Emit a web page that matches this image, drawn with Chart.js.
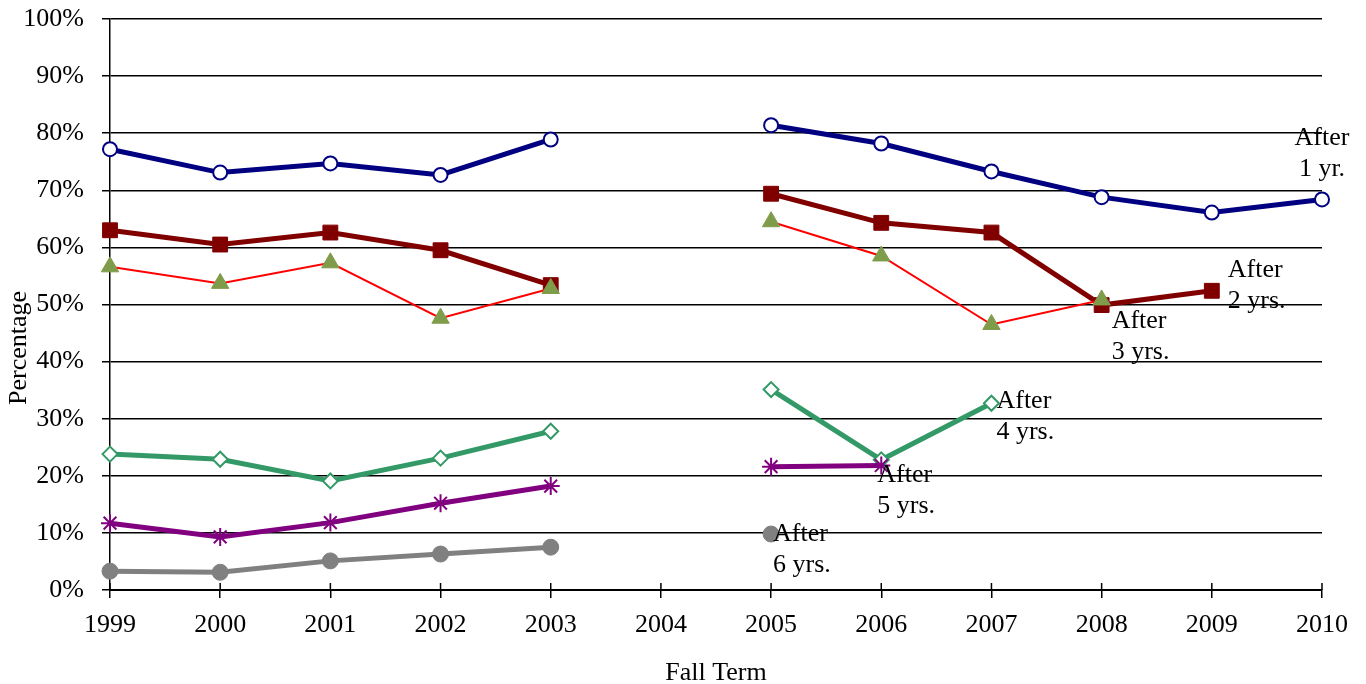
<!DOCTYPE html>
<html>
<head>
<meta charset="utf-8">
<script src="https://cdn.jsdelivr.net/npm/chart.js@4"></script>
<style>
html,body{margin:0;padding:0;background:#fff;}
#wrap{position:relative;width:1366px;height:684px;}
</style>
</head>
<body>
<div id="wrap"><canvas id="c" width="1366" height="684"></canvas></div>
<script>
const categories = ['1999','2000','2001','2002','2003','2004','2005','2006','2007','2008','2009','2010'];
const after1 = [77.2, 73.1, 74.7, 72.7, 78.9, null, 81.4, 78.2, 73.3, 68.8, 66.1, 68.4];
const after2 = [63.0, 60.5, 62.6, 59.5, 53.4, null, 69.4, 64.3, 62.6, 49.9, 52.4, null];
const after3 = [56.6, 53.7, 57.3, 47.6, 52.8, null, 64.5, 58.5, 46.5, 50.8, null, null];
const after4 = [23.8, 22.9, 19.1, 23.1, 27.8, null, 35.1, 22.8, 32.7, null, null, null];
const after5 = [11.7, 9.3, 11.8, 15.2, 18.2, null, 21.6, 21.8, null, null, null, null];
const after6 = [3.3, 3.1, 5.1, 6.3, 7.5, null, 9.8, null, null, null, null, null];
const seriesNames = ['After 1 yr.', 'After 2 yrs.', 'After 3 yrs.', 'After 4 yrs.', 'After 5 yrs.', 'After 6 yrs.'];
const yTicks = [0,10,20,30,40,50,60,70,80,90,100];
const xTitle = 'Fall Term';
const yTitle = 'Percentage';

const FONT = 'Liberation Serif, Times New Roman, serif';
const FS = 26;

// end-of-series label placement
const labelPlacement = [
  {ds:0, idx:11, dx:0,  dy:-61, align:'center'},
  {ds:1, idx:10, dx:16, dy:-21, align:'left'},
  {ds:2, idx:9,  dx:10, dy:21,  align:'left'},
  {ds:3, idx:8,  dx:5,  dy:-2,  align:'left'},
  {ds:4, idx:7,  dx:-4, dy:10,  align:'left'},
  {ds:5, idx:6,  dx:2,  dy:0,   align:'left'}
];

const labelPlugin = {
  id:'seriesLabels',
  afterDatasetsDraw(chart){
    const ctx = chart.ctx;
    ctx.save();
    ctx.font = FS + 'px ' + FONT;
    ctx.fillStyle = '#000';
    ctx.textBaseline = 'middle';
    labelPlacement.forEach(p=>{
      const pt = chart.getDatasetMeta(p.ds).data[p.idx];
      const parts = seriesNames[p.ds].split(' ');
      const l1 = parts[0];
      const l2 = parts.slice(1).join(' ');
      ctx.textAlign = p.align;
      ctx.fillText(l1, pt.x + p.dx, pt.y + p.dy);
      ctx.fillText(l2, pt.x + p.dx, pt.y + p.dy + 31);
    });
    ctx.restore();
  }
};

const extras = {
  id:'extras',
  afterDraw(chart){
    const xs = chart.scales.x;
    const ctx = chart.ctx;
    ctx.save();
    ctx.strokeStyle = '#000';
    ctx.lineWidth = 1.5;
    xs.ticks.forEach((t,i)=>{
      const x = xs.getPixelForTick(i);
      ctx.beginPath();
      ctx.moveTo(x, chart.chartArea.bottom - 7);
      ctx.lineTo(x, chart.chartArea.bottom);
      ctx.stroke();
    });
    // y axis title
    ctx.font = FS + 'px ' + FONT;
    ctx.fillStyle = '#000';
    ctx.textAlign = 'center';
    ctx.textBaseline = 'middle';
    ctx.translate(19, 348);
    ctx.rotate(-Math.PI/2);
    ctx.fillText(yTitle, 0, 0);
    ctx.restore();
  }
};

const ds = (label, data, color, lw, style, radius, bg, pbc, bw, order) => ({
  label, data, borderColor: color, borderWidth: lw, pointStyle: style,
  pointRadius: radius, pointHoverRadius: radius, pointBackgroundColor: bg,
  pointBorderColor: pbc, pointBorderWidth: bw, spanGaps:false, tension:0, fill:false, order
});

new Chart(document.getElementById('c'), {
  type:'line',
  data:{
    labels: categories,
    datasets:[
      ds(seriesNames[0], after1, '#000080', 5, 'circle', 7, '#ffffff', '#000080', 2, 6),
      ds(seriesNames[1], after2, '#800000', 5, 'rect', 10.5, '#800000', '#800000', 1, 5),
      ds(seriesNames[2], after3, '#ff0000', 2, 'triangle', 10, '#7f9c4a', '#7f9c4a', 1, 4),
      ds(seriesNames[3], after4, '#339966', 5, 'rectRot', 7.5, '#ffffff', '#339966', 2, 3),
      ds(seriesNames[4], after5, '#800080', 5, 'star', 9, '#800080', '#800080', 2, 2),
      ds(seriesNames[5], after6, '#808080', 5, 'circle', 8, '#808080', '#808080', 1, 1)
    ]
  },
  options:{
    responsive:false,
    animation:false,
    devicePixelRatio:1,
    layout:{padding:{top:19, right:44, left:0, bottom:0}},
    plugins:{legend:{display:false}, tooltip:{enabled:false}},
    scales:{
      x:{
        offset:false,
        grid:{drawOnChartArea:false, drawTicks:true, tickLength:8, color:'#000', lineWidth:1.5},
        border:{display:true, color:'#000', width:2},
        ticks:{font:{family:FONT, size:FS}, color:'#000', padding:12, maxRotation:0, autoSkip:false},
        title:{display:true, text:xTitle, font:{family:FONT, size:FS, lineHeight:1.0}, color:'#000', padding:{top:0,bottom:-2}},
        afterFit(s){ s.height = 94; s.paddingLeft = 0; s.paddingRight = 0; }
      },
      y:{
        min:0, max:100,
        afterBuildTicks(s){ s.ticks = yTicks.map(v=>({value:v})); },
        grid:{color:'#000', lineWidth:1.5, tickLength:8, drawTicks:true},
        border:{display:true, color:'#000', width:1.5},
        ticks:{font:{family:FONT, size:FS}, color:'#000', padding:18, callback:v=>v+'%'},
        title:{display:false},
        afterFit(s){ s.width = 110; s.paddingTop = 0; s.paddingBottom = 0; }
      }
    }
  },
  plugins:[labelPlugin, extras]
});
</script>
</body>
</html>
